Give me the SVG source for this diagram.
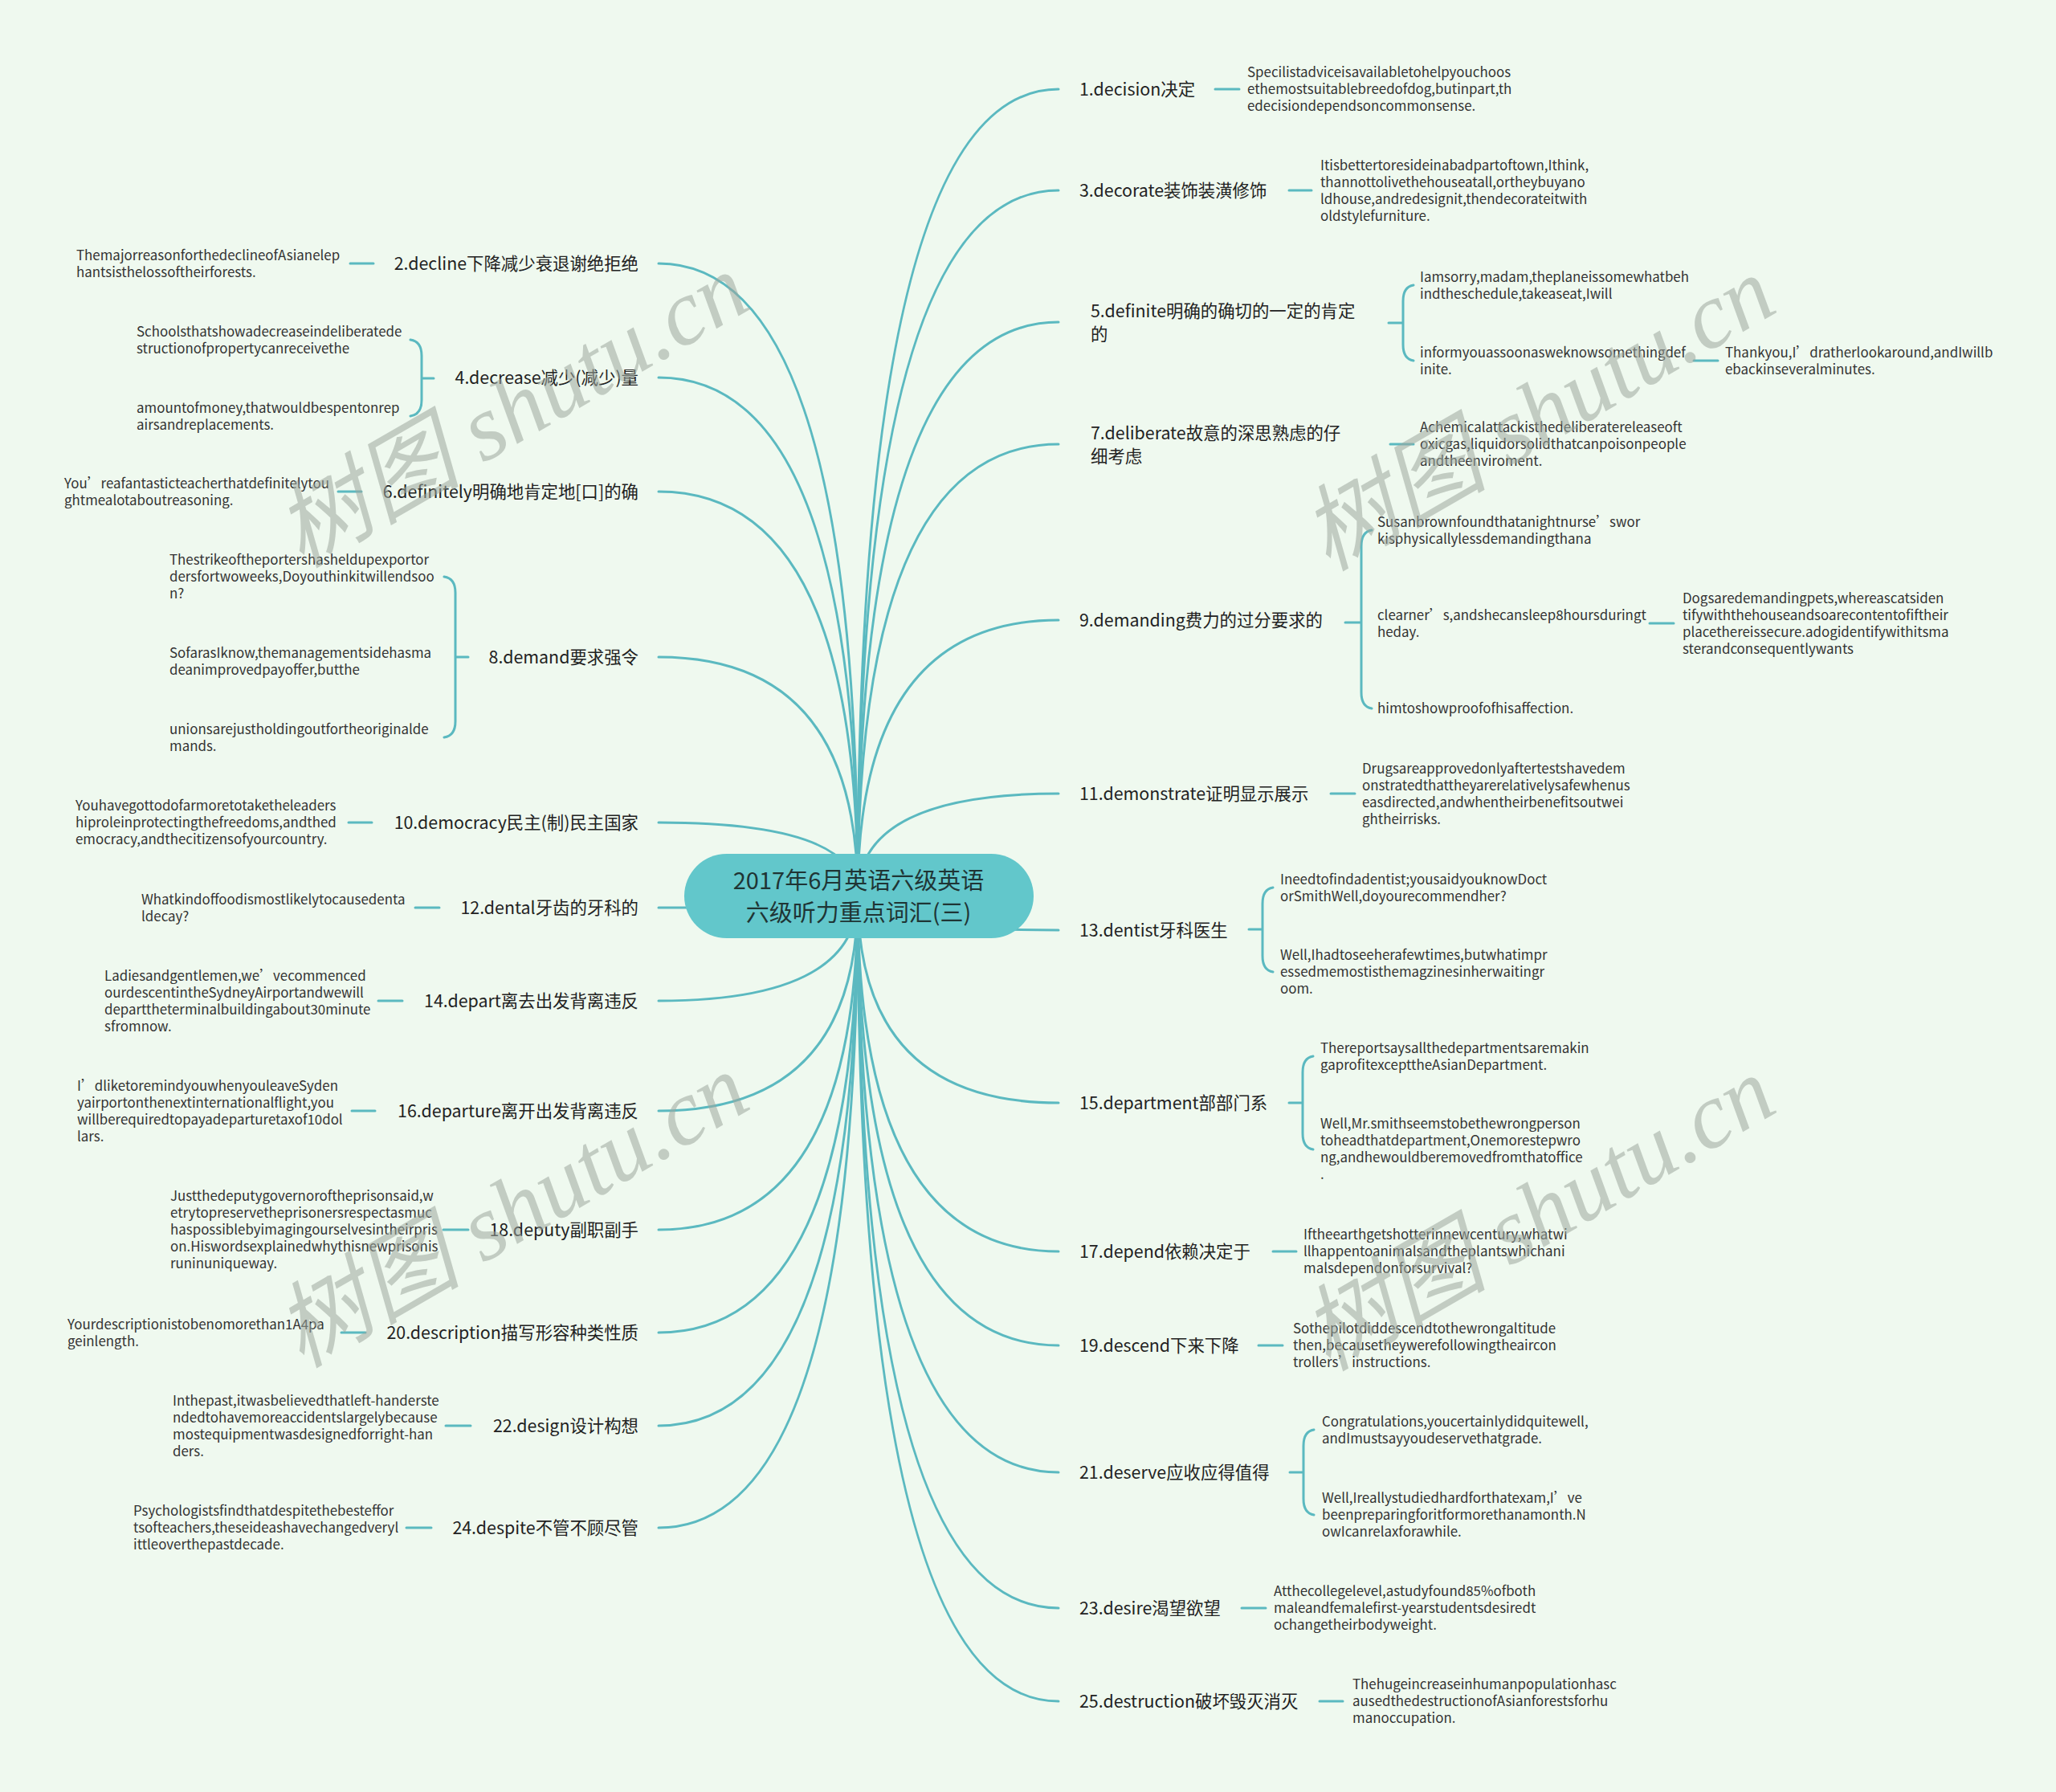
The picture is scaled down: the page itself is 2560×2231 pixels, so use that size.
<svg xmlns="http://www.w3.org/2000/svg" width="2560" height="2231" viewBox="0 0 2560 2231">
<style>
text{font-family:"Noto Sans CJK SC","Noto Sans",sans-serif}
.lbl{font-size:21.4px;fill:#222}
.lblr{font-size:21.4px;fill:#222;text-anchor:end}
.leaf{font-size:16.9px;fill:#333}
.conn{fill:none;stroke:#5bb9c0;stroke-width:3;stroke-linecap:round}
.wm{font-family:"Liberation Serif","Noto Sans CJK SC",serif;font-style:italic;font-size:116px;fill:#9ea89f;opacity:0.55;text-anchor:middle}
</style>
<rect x="0" y="0" width="2560" height="2231" fill="#eff9ef"/>
<g id="connectors" class="conn">
<path d="M1068 1115 Q1068 111 1318 111"/>
<path d="M1068 1115 Q1068 237 1318 237"/>
<path d="M1068 1115 Q1068 401 1318 401"/>
<path d="M1068 1115 Q1068 553 1318 553"/>
<path d="M1068 1115 Q1068 772 1318 772"/>
<path d="M1068 1115 Q1068 988 1318 988"/>
<path d="M1068 1115 Q1068 1158 1318 1158"/>
<path d="M1068 1115 Q1068 1373 1318 1373"/>
<path d="M1068 1115 Q1068 1558 1318 1558"/>
<path d="M1068 1115 Q1068 1675 1318 1675"/>
<path d="M1068 1115 Q1068 1833 1318 1833"/>
<path d="M1068 1115 Q1068 2002 1318 2002"/>
<path d="M1068 1115 Q1068 2118 1318 2118"/>
<path d="M1068 1115 Q1068 328 820 328"/>
<path d="M1068 1115 Q1068 470 820 470"/>
<path d="M1068 1115 Q1068 612 820 612"/>
<path d="M1068 1115 Q1068 818 820 818"/>
<path d="M1068 1115 Q1068 1024 820 1024"/>
<path d="M1068 1115 Q1068 1130 820 1130"/>
<path d="M1068 1115 Q1068 1246 820 1246"/>
<path d="M1068 1115 Q1068 1383 820 1383"/>
<path d="M1068 1115 Q1068 1531 820 1531"/>
<path d="M1068 1115 Q1068 1659 820 1659"/>
<path d="M1068 1115 Q1068 1775 820 1775"/>
<path d="M1068 1115 Q1068 1902 820 1902"/>
<path d="M1513 111 H1543"/>
<path d="M1605 237 H1633"/>
<path d="M2109 449 H2139"/>
<path d="M1731 553 H1760"/>
<path d="M2054 776 H2084"/>
<path d="M1657 988 H1687"/>
<path d="M1585 1558 H1614"/>
<path d="M1567 1675 H1597"/>
<path d="M1546 2002 H1576"/>
<path d="M1643 2118 H1672"/>
<path d="M1729 402 H1747 M1760 355 Q1747 357 1747 375 V429 Q1747 447 1760 449"/>
<path d="M1675 775 H1695 M1708 660 Q1695 662 1695 680 V862 Q1695 880 1708 882"/>
<path d="M1555 1157 H1572 M1585 1105 Q1572 1107 1572 1125 V1190 Q1572 1208 1585 1210"/>
<path d="M1605 1373 H1622 M1635 1315 Q1622 1317 1622 1335 V1411 Q1622 1429 1635 1431"/>
<path d="M1606 1833 H1623 M1636 1780 Q1623 1782 1623 1800 V1866 Q1623 1884 1636 1886"/>
<path d="M436 328 H465"/>
<path d="M421 612 H450"/>
<path d="M434 1024 H463"/>
<path d="M517 1130 H547"/>
<path d="M471 1246 H501"/>
<path d="M438 1383 H467"/>
<path d="M552 1531 H583"/>
<path d="M425 1659 H455"/>
<path d="M555 1775 H586"/>
<path d="M506 1902 H537"/>
<path d="M540 471 H525 M511 423 Q525 425 525 443 V498 Q525 516 511 518"/>
<path d="M583 818 H567 M553 718 Q567 720 567 738 V898 Q567 916 553 918"/>
</g>
<g id="center">
<rect x="852" y="1063" width="435" height="105" rx="52.5" fill="#62c7cb"/>
<text x="1069" y="1107" font-size="29" fill="#1f3535" text-anchor="middle">2017年6月英语六级英语</text>
<text x="1069" y="1147" font-size="29" fill="#1f3535" text-anchor="middle">六级听力重点词汇(三)</text>
</g>
<g id="n1"><text class="lbl" x="1344" y="119">1.decision决定</text></g>
<g id="n1a"><text class="leaf" x="1553" y="96">Specilistadviceisavailabletohelpyouchoos<tspan x="1553" dy="21">ethemostsuitablebreedofdog,butinpart,th</tspan><tspan x="1553" dy="21">edecisiondependsoncommonsense.</tspan></text></g>
<g id="n3"><text class="lbl" x="1344" y="245">3.decorate装饰装潢修饰</text></g>
<g id="n3a"><text class="leaf" x="1644" y="212">Itisbettertoresideinabadpartoftown,Ithink,<tspan x="1644" dy="21">thannottolivethehouseatall,ortheybuyano</tspan><tspan x="1644" dy="21">ldhouse,andredesignit,thendecorateitwith</tspan><tspan x="1644" dy="21">oldstylefurniture.</tspan></text></g>
<g id="n5"><text class="lbl" x="1358" y="395">5.definite明确的确切的一定的肯定<tspan x="1358" dy="29">的</tspan></text></g>
<g id="n5a"><text class="leaf" x="1768" y="351">Iamsorry,madam,theplaneissomewhatbeh<tspan x="1768" dy="21">indtheschedule,takeaseat,Iwill</tspan></text></g>
<g id="n5b"><text class="leaf" x="1768" y="445">informyouassoonasweknowsomethingdef<tspan x="1768" dy="21">inite.</tspan></text></g>
<g id="n5c"><text class="leaf" x="2148" y="445">Thankyou,I’dratherlookaround,andIwillb<tspan x="2148" dy="21">ebackinseveralminutes.</tspan></text></g>
<g id="n7"><text class="lbl" x="1358" y="547">7.deliberate故意的深思熟虑的仔<tspan x="1358" dy="29">细考虑</tspan></text></g>
<g id="n7a"><text class="leaf" x="1768" y="538">Achemicalattackisthedeliberatereleaseoft<tspan x="1768" dy="21">oxicgas,liquidorsolidthatcanpoisonpeople</tspan><tspan x="1768" dy="21">andtheenviroment.</tspan></text></g>
<g id="n9"><text class="lbl" x="1344" y="780">9.demanding费力的过分要求的</text></g>
<g id="n9a"><text class="leaf" x="1715" y="656">Susanbrownfoundthatanightnurse’swor<tspan x="1715" dy="21">kisphysicallylessdemandingthana</tspan></text></g>
<g id="n9b"><text class="leaf" x="1715" y="772">clearner’s,andshecansleep8hoursduringt<tspan x="1715" dy="21">heday.</tspan></text></g>
<g id="n9c"><text class="leaf" x="1715" y="888">himtoshowproofofhisaffection.</text></g>
<g id="n9d"><text class="leaf" x="2095" y="751">Dogsaredemandingpets,whereascatsiden<tspan x="2095" dy="21">tifywiththehouseandsoarecontentofiftheir</tspan><tspan x="2095" dy="21">placethereissecure.adogidentifywithitsma</tspan><tspan x="2095" dy="21">sterandconsequentlywants</tspan></text></g>
<g id="n11"><text class="lbl" x="1344" y="996">11.demonstrate证明显示展示</text></g>
<g id="n11a"><text class="leaf" x="1696" y="963">Drugsareapprovedonlyaftertestshavedem<tspan x="1696" dy="21">onstratedthattheyarerelativelysafewhenus</tspan><tspan x="1696" dy="21">easdirected,andwhentheirbenefitsoutwei</tspan><tspan x="1696" dy="21">ghtheirrisks.</tspan></text></g>
<g id="n13"><text class="lbl" x="1344" y="1166">13.dentist牙科医生</text></g>
<g id="n13a"><text class="leaf" x="1594" y="1101">Ineedtofindadentist;yousaidyouknowDoct<tspan x="1594" dy="21">orSmithWell,doyourecommendher?</tspan></text></g>
<g id="n13b"><text class="leaf" x="1594" y="1195">Well,Ihadtoseeherafewtimes,butwhatimpr<tspan x="1594" dy="21">essedmemostisthemagzinesinherwaitingr</tspan><tspan x="1594" dy="21">oom.</tspan></text></g>
<g id="n15"><text class="lbl" x="1344" y="1381">15.department部部门系</text></g>
<g id="n15a"><text class="leaf" x="1644" y="1311">Thereportsaysallthedepartmentsaremakin<tspan x="1644" dy="21">gaprofitexcepttheAsianDepartment.</tspan></text></g>
<g id="n15b"><text class="leaf" x="1644" y="1405">Well,Mr.smithseemstobethewrongperson<tspan x="1644" dy="21">toheadthatdepartment,Onemorestepwro</tspan><tspan x="1644" dy="21">ng,andhewouldberemovedfromthatoffice</tspan><tspan x="1644" dy="21">.</tspan></text></g>
<g id="n17"><text class="lbl" x="1344" y="1566">17.depend依赖决定于</text></g>
<g id="n17a"><text class="leaf" x="1623" y="1543">Iftheearthgetshotterinnewcentury,whatwi<tspan x="1623" dy="21">llhappentoanimalsandtheplantswhichani</tspan><tspan x="1623" dy="21">malsdependonforsurvival?</tspan></text></g>
<g id="n19"><text class="lbl" x="1344" y="1683">19.descend下来下降</text></g>
<g id="n19a"><text class="leaf" x="1610" y="1660">Sothepilotdiddescendtothewrongaltitude<tspan x="1610" dy="21">then,becausetheywerefollowingtheaircon</tspan><tspan x="1610" dy="21">trollers’instructions.</tspan></text></g>
<g id="n21"><text class="lbl" x="1344" y="1841">21.deserve应收应得值得</text></g>
<g id="n21a"><text class="leaf" x="1646" y="1776">Congratulations,youcertainlydidquitewell,<tspan x="1646" dy="21">andImustsayyoudeservethatgrade.</tspan></text></g>
<g id="n21b"><text class="leaf" x="1646" y="1871">Well,Ireallystudiedhardforthatexam,I’ve<tspan x="1646" dy="21">beenpreparingforitformorethanamonth.N</tspan><tspan x="1646" dy="21">owIcanrelaxforawhile.</tspan></text></g>
<g id="n23"><text class="lbl" x="1344" y="2010">23.desire渴望欲望</text></g>
<g id="n23a"><text class="leaf" x="1586" y="1987">Atthecollegelevel,astudyfound85%ofboth<tspan x="1586" dy="21">maleandfemalefirst-yearstudentsdesiredt</tspan><tspan x="1586" dy="21">ochangetheirbodyweight.</tspan></text></g>
<g id="n25"><text class="lbl" x="1344" y="2126">25.destruction破坏毁灭消灭</text></g>
<g id="n25a"><text class="leaf" x="1684" y="2103">Thehugeincreaseinhumanpopulationhasc<tspan x="1684" dy="21">ausedthedestructionofAsianforestsforhu</tspan><tspan x="1684" dy="21">manoccupation.</tspan></text></g>
<g id="n2"><text class="lblr" x="795" y="336">2.decline下降减少衰退谢绝拒绝</text></g>
<g id="n2a"><text class="leaf" x="95" y="324">ThemajorreasonforthedeclineofAsianelep<tspan x="95" dy="21">hantsisthelossoftheirforests.</tspan></text></g>
<g id="n4"><text class="lblr" x="795" y="478">4.decrease减少(减少)量</text></g>
<g id="n4a"><text class="leaf" x="170" y="419">Schoolsthatshowadecreaseindeliberatede<tspan x="170" dy="21">structionofpropertycanreceivethe</tspan></text></g>
<g id="n4b"><text class="leaf" x="170" y="514">amountofmoney,thatwouldbespentonrep<tspan x="170" dy="21">airsandreplacements.</tspan></text></g>
<g id="n6"><text class="lblr" x="795" y="620">6.definitely明确地肯定地[口]的确</text></g>
<g id="n6a"><text class="leaf" x="80" y="608">You’reafantasticteacherthatdefinitelytou<tspan x="80" dy="21">ghtmealotaboutreasoning.</tspan></text></g>
<g id="n8"><text class="lblr" x="795" y="826">8.demand要求强令</text></g>
<g id="n8a"><text class="leaf" x="211" y="703">Thestrikeoftheportershasheldupexportor<tspan x="211" dy="21">dersfortwoweeks,Doyouthinkitwillendsoo</tspan><tspan x="211" dy="21">n?</tspan></text></g>
<g id="n8b"><text class="leaf" x="211" y="819">SofarasIknow,themanagementsidehasma<tspan x="211" dy="21">deanimprovedpayoffer,butthe</tspan></text></g>
<g id="n8c"><text class="leaf" x="211" y="914">unionsarejustholdingoutfortheoriginalde<tspan x="211" dy="21">mands.</tspan></text></g>
<g id="n10"><text class="lblr" x="795" y="1032">10.democracy民主(制)民主国家</text></g>
<g id="n10a"><text class="leaf" x="94" y="1009">Youhavegottodofarmoretotaketheleaders<tspan x="94" dy="21">hiproleinprotectingthefreedoms,andthed</tspan><tspan x="94" dy="21">emocracy,andthecitizensofyourcountry.</tspan></text></g>
<g id="n12"><text class="lblr" x="795" y="1138">12.dental牙齿的牙科的</text></g>
<g id="n12a"><text class="leaf" x="176" y="1126">Whatkindoffoodismostlikelytocausedenta<tspan x="176" dy="21">ldecay?</tspan></text></g>
<g id="n14"><text class="lblr" x="795" y="1254">14.depart离去出发背离违反</text></g>
<g id="n14a"><text class="leaf" x="130" y="1221">Ladiesandgentlemen,we’vecommenced<tspan x="130" dy="21">ourdescentintheSydneyAirportandwewill</tspan><tspan x="130" dy="21">departtheterminalbuildingabout30minute</tspan><tspan x="130" dy="21">sfromnow.</tspan></text></g>
<g id="n16"><text class="lblr" x="795" y="1391">16.departure离开出发背离违反</text></g>
<g id="n16a"><text class="leaf" x="96" y="1358">I’dliketoremindyouwhenyouleaveSyden<tspan x="96" dy="21">yairportonthenextinternationalflight,you</tspan><tspan x="96" dy="21">willberequiredtopayadeparturetaxof10dol</tspan><tspan x="96" dy="21">lars.</tspan></text></g>
<g id="n18"><text class="lblr" x="795" y="1539">18.deputy副职副手</text></g>
<g id="n18a"><text class="leaf" x="212" y="1495">Justthedeputygovernoroftheprisonsaid,w<tspan x="212" dy="21">etrytopreservetheprisonersrespectasmuc</tspan><tspan x="212" dy="21">haspossiblebyimagingourselvesintheirpris</tspan><tspan x="212" dy="21">on.Hiswordsexplainedwhythisnewprisonis</tspan><tspan x="212" dy="21">runinuniqueway.</tspan></text></g>
<g id="n20"><text class="lblr" x="795" y="1667">20.description描写形容种类性质</text></g>
<g id="n20a"><text class="leaf" x="84" y="1655">Yourdescriptionistobenomorethan1A4pa<tspan x="84" dy="21">geinlength.</tspan></text></g>
<g id="n22"><text class="lblr" x="795" y="1783">22.design设计构想</text></g>
<g id="n22a"><text class="leaf" x="215" y="1750">Inthepast,itwasbelievedthatleft-handerste<tspan x="215" dy="21">ndedtohavemoreaccidentslargelybecause</tspan><tspan x="215" dy="21">mostequipmentwasdesignedforright-han</tspan><tspan x="215" dy="21">ders.</tspan></text></g>
<g id="n24"><text class="lblr" x="795" y="1910">24.despite不管不顾尽管</text></g>
<g id="n24a"><text class="leaf" x="166" y="1887">Psychologistsfindthatdespitethebesteffor<tspan x="166" dy="21">tsofteachers,theseideashavechangedveryl</tspan><tspan x="166" dy="21">ittleoverthepastdecade.</tspan></text></g>
<g id="watermarks">
<text class="wm" transform="translate(657 545) rotate(-30)">树图 shutu.cn</text>
<text class="wm" transform="translate(1935 549) rotate(-30)">树图 shutu.cn</text>
<text class="wm" transform="translate(657 1541) rotate(-30)">树图 shutu.cn</text>
<text class="wm" transform="translate(1935 1545) rotate(-30)">树图 shutu.cn</text>
</g>
</svg>
